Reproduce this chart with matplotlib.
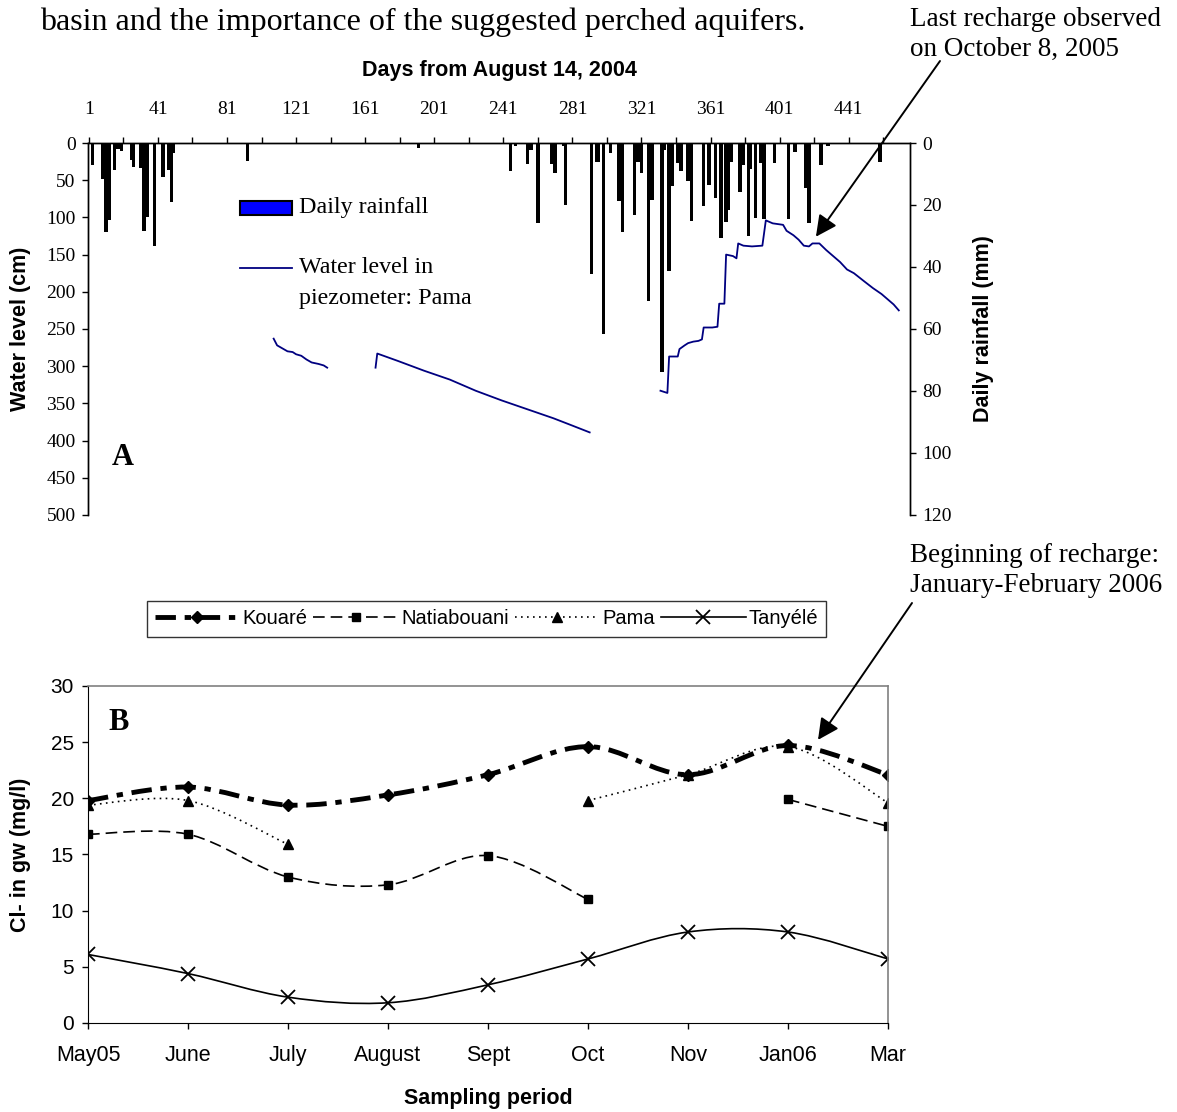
import numpy as np
import matplotlib
matplotlib.use('Agg')
import matplotlib.pyplot as plt
from matplotlib.path import Path
from matplotlib.patches import PathPatch, Rectangle
from matplotlib.lines import Line2D

SERIF = 'Liberation Serif'
SANS = 'Liberation Sans'

# --- panel A: daily rainfall (mm), day counted from August 14, 2004
rain_day = [3, 9, 11, 13, 16, 18, 20, 26, 27, 31, 33, 35, 39, 44, 47, 49, 50,
            93, 192, 245, 248, 255, 257, 261, 269, 271, 276, 277, 292, 295, 296,
            299, 303, 308, 310, 317, 319, 321, 325, 327, 333, 334, 337, 339, 342,
            344, 348, 350, 357, 360, 364, 367, 370, 371, 373, 378, 380, 383, 384,
            387, 390, 392, 398, 406, 410, 416, 418, 425, 429, 459]
rain_mm = [7.2, 11.5, 28.8, 25.0, 8.6, 2.0, 2.5, 5.4, 7.8, 8.0, 28.3, 24.0, 33.3,
           11.0, 8.6, 19.0, 3.2, 5.9, 1.6, 9.0, 1.0, 6.7, 2.3, 25.8, 6.8, 9.6, 1.0,
           20.1, 42.4, 6.0, 6.0, 61.6, 3.2, 18.8, 28.7, 23.3, 6.0, 9.7, 51.1, 18.4,
           74.0, 2.2, 41.4, 14.0, 6.6, 9.1, 12.3, 25.1, 20.2, 13.4, 17.8, 30.6, 25.6,
           21.5, 6.0, 15.8, 7.0, 30.1, 8.3, 24.1, 6.4, 24.4, 6.5, 24.6, 2.9, 14.5,
           25.8, 7.0, 0.9, 6.0]

# water level in the Pama piezometer (cm below surface); nan = no record
wl_day = [108, 110, 113, 116, 119, 121, 124, 127, 130, 134, 137, 139, 140,
          167, 168, 180, 195, 210, 225, 240, 255, 270, 280, 291, 292,
          332, 336, 337, 342, 343, 346, 348, 351, 354, 356, 357, 362, 365, 366,
          369, 370, 374, 376, 377, 380, 385, 391, 393, 397, 403, 405, 409, 412,
          415, 418, 420, 424, 428, 432, 436, 440, 444, 450, 455, 460, 463, 467, 470]
wl_cm = [263, 272, 276, 280, 281, 284, 286, 291, 295, 297, 299, 302, np.nan,
         302, 283, 293, 306, 318, 333, 346, 358, 370, 379, 389, np.nan,
         333, 336, 287, 287, 277, 272, 269, 267, 266, 264, 248, 248, 247, 216,
         216, 150, 152, 155, 135, 138, 139, 138, 104, 108, 110, 118, 124, 130,
         138, 139, 135, 135, 144, 152, 160, 170, 175, 186, 195, 203, 209, 217, 225]

day_ticks = list(range(1, 462, 20))
day_labels = [str(d) if (d - 1) % 40 == 0 else '' for d in day_ticks]

# --- panel B: chloride in groundwater (mg/l)
months = ['May05', 'June', 'July', 'August', 'Sept', 'Oct', 'Nov', 'Jan06', 'Mar']
kouare = [19.8, 21.0, 19.4, 20.3, 22.1, 24.6, 22.1, 24.7, 22.1]
natiabouani = [16.8, 16.8, 13.0, 12.3, 14.9, 11.0, np.nan, 19.9, 17.5]
pama = [19.4, 19.8, 15.9, np.nan, np.nan, 19.8, 22.1, 24.6, 19.6]
tanyele = [6.1, 4.4, 2.3, 1.8, 3.4, 5.7, 8.1, 8.1, 5.7]


def smooth_path(xs, ys):
    # cubic Bezier through the points, spreadsheet-style smoothing
    pts = np.column_stack([xs, ys])
    n = len(pts)
    verts = [pts[0]]
    codes = [Path.MOVETO]
    for i in range(n - 1):
        p0 = pts[i - 1] if i > 0 else pts[i]
        p3 = pts[i + 2] if i + 2 < n else pts[i + 1]
        c1 = pts[i] + (pts[i + 1] - p0) / 6.0
        c2 = pts[i + 1] - (p3 - pts[i]) / 6.0
        verts += [c1, c2, pts[i + 1]]
        codes += [Path.CURVE4] * 3
    return Path(verts, codes)


def draw_smooth(ax, xs, ys, **kw):
    xs = np.asarray(xs, float)
    ys = np.asarray(ys, float)
    ok = ~np.isnan(ys)
    start = None
    for i in range(len(ys) + 1):
        if i < len(ys) and ok[i]:
            if start is None:
                start = i
        elif start is not None:
            if i - start > 1:
                ax.add_patch(PathPatch(smooth_path(xs[start:i], ys[start:i]),
                                       fill=False, **kw))
            start = None


fig = plt.figure(figsize=(11.77, 11.12), dpi=100)

fig.text(40 / 1177, 1 - 22 / 1112,
         'basin and the importance of the suggested perched aquifers.',
         fontsize=23, family=SERIF, va='center', ha='left')

# ---------------- panel A ----------------
ax = fig.add_axes([0.07477, 0.5369, 0.6984, 0.3345])
ax2 = ax.twinx()
ax.set_zorder(ax2.get_zorder() + 1)
ax.patch.set_visible(False)

ax2.bar(rain_day, rain_mm, width=2.0, color='black', linewidth=0)
ax.plot(wl_day, wl_cm, color='#000080', lw=1.3)

ax.set_xlim(0.5, 476.5)
ax.set_ylim(500, 0)
ax2.set_ylim(120, 0)

ax.xaxis.tick_top()
ax.xaxis.set_label_position('top')
ax.set_xticks(day_ticks)
ax.set_xticklabels(day_labels, family=SERIF, fontsize=14)
ax.tick_params(axis='x', direction='out', length=4, width=1, pad=14)
ax.set_xlabel('Days from August 14, 2004', family=SANS,
              fontweight='bold', fontsize=15.5)
ax.xaxis.set_label_coords(0.5, 1.196)
ax.xaxis.label.set_va('center')

ax.set_yticks(range(0, 501, 50))
ax.set_yticklabels([str(v) for v in range(0, 501, 50)], family=SERIF, fontsize=14)
ax.tick_params(axis='y', direction='out', length=4, width=1, pad=5)
ax.set_ylabel('Water level (cm)', family=SANS, fontweight='bold', fontsize=15.5)
ax.yaxis.set_label_coords(-0.0827, 0.5)
ax.yaxis.label.set_va('center')

ax2.set_yticks(range(0, 121, 20))
ax2.set_yticklabels([str(v) for v in range(0, 121, 20)], family=SERIF, fontsize=14)
ax2.tick_params(axis='y', direction='out', length=4, width=1, pad=5)
ax2.set_ylabel('Daily rainfall (mm)', family=SANS, fontweight='bold', fontsize=15.5)
ax2.yaxis.set_label_coords(1.0888, 0.5)
ax2.yaxis.label.set_va('center')

for a in (ax, ax2):
    a.spines['bottom'].set_visible(False)
    for s in ('top', 'left', 'right'):
        a.spines[s].set_linewidth(1.0)

# legend keys inside panel A
ax.add_patch(Rectangle((0.1849, 0.8065), 0.0633, 0.0376, transform=ax.transAxes,
                       facecolor='#0000FF', edgecolor='black', lw=1.5,
                       clip_on=False))
ax.text(0.2567, 0.8253, 'Daily rainfall', transform=ax.transAxes,
        family=SERIF, fontsize=17.3, va='center')
ax.plot([0.1849, 0.2482], [0.664, 0.664], transform=ax.transAxes,
        color='#000080', lw=1.3)
ax.text(0.2567, 0.664, 'Water level in', transform=ax.transAxes,
        family=SERIF, fontsize=17.3, va='center')
ax.text(0.2567, 0.5833, 'piezometer: Pama', transform=ax.transAxes,
        family=SERIF, fontsize=17.3, va='center')
ax.text(0.029, 0.1532, 'A', transform=ax.transAxes, family=SERIF,
        fontweight='bold', fontsize=22, va='center')

fig.text(910 / 1177, 1 - 19 / 1112, 'Last recharge observed',
         family=SERIF, fontsize=19.5, va='center', ha='left')
fig.text(910 / 1177, 1 - 49 / 1112, 'on October 8, 2005',
         family=SERIF, fontsize=19.5, va='center', ha='left')
ax.annotate('', xy=(422, 126), xycoords='data',
            xytext=(940 / 1177, 1 - 61 / 1112), textcoords='figure fraction',
            annotation_clip=False,
            arrowprops=dict(arrowstyle='-|>', mutation_scale=32, lw=1.4,
                            color='black', shrinkA=0, shrinkB=0))

# ---------------- panel B ----------------
axb = fig.add_axes([0.07477, 0.08004, 0.6797, 0.3031])
x = np.arange(len(months))

k_dash = (0, (4.2, 1.8, 1.3, 1.8))
n_dash = (0, (7.0, 3.6))
p_dash = (0, (1.0, 2.6))

draw_smooth(axb, x, kouare, edgecolor='black', lw=3.5, linestyle=k_dash)
draw_smooth(axb, x, natiabouani, edgecolor='black', lw=1.2, linestyle=n_dash)
draw_smooth(axb, x, pama, edgecolor='black', lw=1.2, linestyle=p_dash)
draw_smooth(axb, x, tanyele, edgecolor='black', lw=1.2, linestyle='-')

axb.plot(x, kouare, 'D', color='black', ms=6, linestyle='none')
axb.plot(x, natiabouani, 's', color='black', ms=5.5, linestyle='none')
axb.plot(x, pama, '^', color='black', ms=6.5, linestyle='none')
axb.plot(x, tanyele, 'x', color='black', ms=10, mew=1.3, linestyle='none')

axb.set_xlim(0, 8)
axb.set_ylim(0, 30)
axb.set_xticks(x)
axb.set_xticklabels(months, family=SANS, fontsize=15.5)
axb.set_yticks(range(0, 31, 5))
axb.set_yticklabels([str(v) for v in range(0, 31, 5)], family=SANS, fontsize=15)
axb.tick_params(direction='out', length=4, width=1)
axb.tick_params(axis='x', pad=12)
axb.tick_params(axis='y', pad=6)
axb.set_xlabel('Sampling period', family=SANS, fontweight='bold', fontsize=15.5)
axb.xaxis.set_label_coords(0.5, -0.2226)
axb.xaxis.label.set_va('center')
axb.set_ylabel('Cl- in gw (mg/l)', family=SANS, fontweight='bold', fontsize=15.5)
axb.yaxis.set_label_coords(-0.085, 0.5)
axb.yaxis.label.set_va('center')
for s in ('top', 'right'):
    axb.spines[s].set_color('#808080')
    axb.spines[s].set_linewidth(1.2)

axb.text(0.025, 0.893, 'B', transform=axb.transAxes, family=SERIF,
         fontweight='bold', fontsize=22, va='center')

handles = [
    Line2D([], [], color='black', lw=3.5, linestyle=k_dash, marker='D', ms=6),
    Line2D([], [], color='black', lw=1.2, linestyle=n_dash, marker='s', ms=5.5),
    Line2D([], [], color='black', lw=1.2, linestyle=p_dash, marker='^', ms=6.5),
    Line2D([], [], color='black', lw=1.2, linestyle='-', marker='x', ms=10, mew=1.3),
]
leg = fig.legend(handles, ['Kouaré', 'Natiabouani', 'Pama', 'Tanyélé'],
                 ncol=4, loc='center', bbox_to_anchor=(0.4133, 1 - 619 / 1112),
                 frameon=True, fancybox=False, edgecolor='black',
                 handlelength=4.2, handletextpad=0.15, columnspacing=0.3,
                 borderpad=0.4, prop={'family': SANS, 'size': 14.5})
leg.get_frame().set_linewidth(1.0)

fig.text(910 / 1177, 1 - 555 / 1112, 'Beginning of recharge:',
         family=SERIF, fontsize=19.5, va='center', ha='left')
fig.text(910 / 1177, 1 - 585 / 1112, 'January-February 2006',
         family=SERIF, fontsize=19.5, va='center', ha='left')
axb.annotate('', xy=(7.3, 25.2), xycoords='data',
             xytext=(912 / 1177, 1 - 603 / 1112), textcoords='figure fraction',
             annotation_clip=False,
             arrowprops=dict(arrowstyle='-|>', mutation_scale=32, lw=1.4,
                             color='black', shrinkA=0, shrinkB=0))

fig.savefig('out.png', dpi=100)
